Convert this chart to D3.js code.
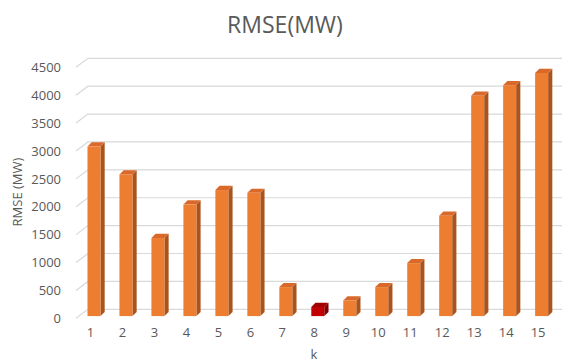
<!DOCTYPE html>
<html>
<head>
<meta charset="utf-8">
<script src="https://cdn.jsdelivr.net/npm/d3@7"></script>
<style>
  html, body { margin: 0; padding: 0; background: #ffffff; }
  svg { display: block; font-family: "Open Sans", "Noto Sans", sans-serif; }
</style>
</head>
<body>
<svg id="chart" width="563" height="362"></svg>
<script>
// RMSE for each k
const categories = [1, 2, 3, 4, 5, 6, 7, 8, 9, 10, 11, 12, 13, 14, 15];
const rmseValues = [3040, 2540, 1400, 2000, 2260, 2210, 520, 165, 280, 520, 950, 1800, 3950, 4140, 4360];
const highlightK = [8];
const yTicks = [0, 500, 1000, 1500, 2000, 2500, 3000, 3500, 4000, 4500];

const svg = d3.select("#chart");
const textColor = "#595959";

// Front plane scales; the back wall is shifted by the wall depth
const x = d3.scaleBand().domain(categories).range([74.5, 554.1]).paddingInner(0).paddingOuter(0);
const y = d3.scaleLinear().domain([0, 4500]).range([318.3, 67.3]);
const wall = { dx: 12, dy: -9 };
const wallRight = 562;

// Gridlines: short perspective diagonal plus the line along the back wall
const grid = svg.append("g");
yTicks.forEach(t => {
  const y0 = y(t);
  grid.append("path")
    .attr("d", `M${x.range()[0] + 1.5},${y0} L${x.range()[0] + 1.5 + wall.dx},${y0 + wall.dy} L${wallRight},${y0 + wall.dy}`)
    .attr("fill", "none")
    .attr("stroke", "#d9d9d9")
    .attr("stroke-width", 1.2);
});

// Y axis labels
const yAxis = d3.axisLeft(y).tickValues(yTicks).tickFormat(d3.format("d")).tickSize(0).tickPadding(0);
const yg = svg.append("g").attr("transform", "translate(61,0)").call(yAxis);
yg.select(".domain").remove();
yg.selectAll("text")
  .attr("fill", textColor)
  .style("font-size", "13px")
  .style("font-family", "'Open Sans', 'Noto Sans', sans-serif");

// X axis labels
const xAxis = d3.axisBottom(x).tickSize(0).tickPadding(0);
const xg = svg.append("g").attr("transform", "translate(0,328)").call(xAxis);
xg.select(".domain").remove();
xg.selectAll("text")
  .attr("fill", textColor)
  .style("font-size", "13px")
  .style("font-family", "'Open Sans', 'Noto Sans', sans-serif");

// 3D columns: front face, side face, top face
const barW = 13;
const depth = { dx: 4.2, dy: -4.2 };
const face = { dx: 3.5, dy: -2.2 };
const palette = {
  normal: { front: "#ED7D31", side: "#A9541C", top: "#D9692A" },
  best:   { front: "#C00000", side: "#7F0000", top: "#A00000" }
};

const data = categories.map((k, i) => ({ k, v: rmseValues[i] }));
const bars = svg.append("g").selectAll("g.bar").data(data).join("g").attr("class", "bar");

bars.each(function (d) {
  const g = d3.select(this);
  const c = highlightK.includes(d.k) ? palette.best : palette.normal;
  const x0 = x(d.k) + x.bandwidth() / 2 - barW / 2 + face.dx;
  const x1 = x0 + barW;
  const yb = y(0) + face.dy;
  const yt = y(d.v) + face.dy;
  // side
  g.append("path")
    .attr("d", `M${x1},${yb} L${x1 + depth.dx},${yb + depth.dy} L${x1 + depth.dx},${yt + depth.dy} L${x1},${yt} Z`)
    .attr("fill", c.side);
  // top
  g.append("path")
    .attr("d", `M${x0},${yt} L${x0 + depth.dx},${yt + depth.dy} L${x1 + depth.dx},${yt + depth.dy} L${x1},${yt} Z`)
    .attr("fill", c.top);
  // front
  g.append("rect")
    .attr("x", x0).attr("y", yt)
    .attr("width", barW).attr("height", yb - yt)
    .attr("fill", c.front);
});

// Titles
svg.append("text")
  .attr("x", 285).attr("y", 33)
  .attr("text-anchor", "middle")
  .attr("fill", textColor)
  .style("font-size", "23px")
  .text("RMSE(MW)");

svg.append("text")
  .attr("transform", "translate(22,192) rotate(-90)")
  .attr("text-anchor", "middle")
  .attr("fill", textColor)
  .style("font-size", "13px")
  .text("RMSE (MW)");

svg.append("text")
  .attr("x", 314).attr("y", 359)
  .attr("text-anchor", "middle")
  .attr("fill", textColor)
  .style("font-size", "13px")
  .text("k");
</script>
</body>
</html>
